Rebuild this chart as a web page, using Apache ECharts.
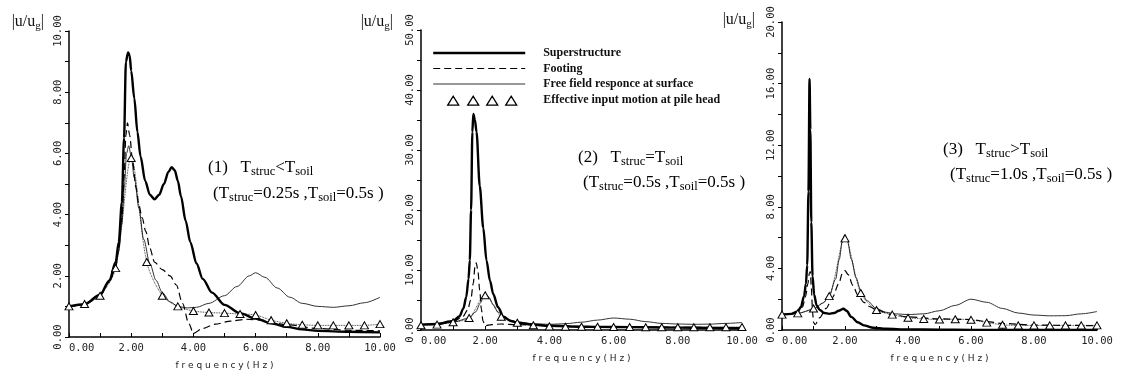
<!DOCTYPE html>
<html>
<head>
<meta charset="utf-8">
<title>|u/ug| frequency response</title>
<script src="https://cdn.jsdelivr.net/npm/echarts@6/dist/echarts.min.js"></script>
<style>
    html, body { margin: 0; padding: 0; background: #fff; }
    #resCharts { width: 1126px; height: 377px; }
</style>
</head>
<body>
<div id="resCharts"></div>
<script>
    // y axis ranges / tick labels
    const yMax = [10, 50, 20]
    const yStep = [2, 10, 4]
    const xMax = 10
    const xStep = 2

    // effective input motion at pile head (triangles), every 0.5 Hz
    const triFreq = [0, 0.5, 1, 1.5, 2, 2.5, 3, 3.5, 4, 4.5, 5, 5.5, 6, 6.5, 7, 7.5, 8, 8.5, 9, 9.5, 10]

    // (1) Tstruc < Tsoil
    const p1SuperF = [0, 0.5, 1.0, 1.3, 1.5, 1.6, 1.7, 1.77, 1.83, 1.9, 1.95, 2.0, 2.1, 2.2, 2.3, 2.45, 2.6, 2.75, 2.9, 3.05, 3.2, 3.3, 3.4, 3.5, 3.6, 3.75, 3.9, 4.1, 4.3, 4.6, 5.0, 5.5, 6.0, 6.5, 7.0, 7.5, 8.0, 9.0, 10.0]
    const p1SuperV = [1.0, 1.07, 1.38, 1.85, 2.45, 3.1, 4.4, 6.5, 9.0, 9.3, 9.2, 8.7, 7.8, 6.7, 5.9, 5.1, 4.65, 4.5, 4.65, 5.0, 5.4, 5.55, 5.45, 5.1, 4.6, 3.8, 3.1, 2.4, 1.9, 1.45, 1.05, 0.78, 0.6, 0.45, 0.33, 0.25, 0.2, 0.17, 0.15]
    const p1FootF = [0, 0.5, 1.0, 1.3, 1.5, 1.6, 1.7, 1.77, 1.83, 1.88, 1.95, 2.05, 2.15, 2.25, 2.35, 2.47, 2.6, 2.75, 3.0, 3.25, 3.45, 3.65, 3.85, 4.0, 4.3, 4.7, 5.2, 5.7, 6.2, 7.0, 8.0, 9.0, 10.0]
    const p1FootV = [1.0, 1.05, 1.35, 1.8, 2.3, 2.9, 3.9, 5.2, 6.6, 7.0, 6.6, 5.7, 4.9, 4.3, 3.9, 3.45, 2.9, 2.45, 2.2, 2.0, 1.7, 1.1, 0.45, 0.12, 0.28, 0.42, 0.52, 0.58, 0.55, 0.4, 0.28, 0.22, 0.2]
    const p1FreeF = [0, 0.5, 1.0, 1.3, 1.5, 1.6, 1.7, 1.78, 1.85, 1.92, 2.0, 2.1, 2.25, 2.4, 2.6, 2.8, 3.0, 3.25, 3.5, 3.8, 4.1, 4.5, 5.0, 5.4, 5.8, 6.0, 6.3, 6.7, 7.1, 7.5, 8.0, 8.5, 9.0, 9.5, 10.0]
    const p1FreeV = [1.0, 1.06, 1.35, 1.8, 2.25, 2.8, 3.7, 4.9, 6.0, 6.25, 5.9, 5.2, 4.2, 3.2, 2.4, 1.85, 1.45, 1.15, 1.0, 0.95, 0.97, 1.1, 1.35, 1.65, 2.0, 2.1, 1.95, 1.6, 1.3, 1.1, 1.0, 0.97, 1.02, 1.12, 1.3]
    const p1Tri = [1.0, 1.08, 1.35, 2.25, 5.85, 2.45, 1.35, 1.0, 0.85, 0.8, 0.78, 0.75, 0.72, 0.55, 0.45, 0.4, 0.38, 0.38, 0.38, 0.38, 0.42]

    // (2) Tstruc = Tsoil
    const p2SuperF = [0, 0.5, 1.0, 1.2, 1.32, 1.41, 1.48, 1.52, 1.56, 1.6, 1.63, 1.68, 1.73, 1.83, 1.94, 2.04, 2.15, 2.25, 2.4, 2.57, 2.8, 3.0, 3.5, 4.0, 5.0, 6.0, 7.0, 8.0, 9.0, 10.0]
    const p2SuperV = [0.9, 1.0, 1.5, 2.3, 3.6, 5.5, 8.5, 11.6, 20, 33, 36, 35, 33, 24, 17, 11.6, 8.2, 6.0, 3.8, 2.2, 1.5, 1.2, 0.9, 0.7, 0.55, 0.5, 0.45, 0.4, 0.35, 0.3]
    const p2FootF = [0, 0.5, 1.0, 1.3, 1.45, 1.55, 1.63, 1.68, 1.72, 1.77, 1.83, 1.88, 1.93, 2.0, 2.2, 2.5, 3.0, 3.5, 4.0, 5.0, 6.0, 7.0, 8.0, 9.0, 10.0]
    const p2FootV = [0.9, 1.0, 1.4, 2.2, 3.3, 5.0, 7.8, 10.5, 11.2, 10.0, 6.6, 3.5, 1.5, 0.7, 0.9, 1.0, 0.9, 0.8, 0.7, 0.6, 0.55, 0.5, 0.45, 0.42, 0.4]
    const p2FreeF = [0, 0.5, 1.0, 1.5, 1.7, 1.85, 1.95, 2.03, 2.12, 2.25, 2.4, 2.6, 2.8, 3.0, 3.5, 4.0, 4.5, 5.0, 5.5, 6.0, 6.5, 7.0, 7.5, 8.0, 8.5, 9.0, 9.5, 10.0]
    const p2FreeV = [0.9, 1.0, 1.3, 2.0, 3.0, 4.5, 5.6, 5.9, 5.4, 4.2, 3.0, 2.1, 1.6, 1.35, 1.05, 0.95, 1.05, 1.3, 1.65, 2.0, 1.8, 1.4, 1.1, 1.0, 0.95, 0.98, 1.1, 1.25]
    const p2Tri = [0.8, 0.9, 1.3, 2.0, 5.8, 2.2, 1.2, 0.8, 0.6, 0.55, 0.55, 0.55, 0.5, 0.5, 0.45, 0.45, 0.45, 0.45, 0.45, 0.45, 0.5]

    // (3) Tstruc > Tsoil
    const p3SuperF = [0, 0.3, 0.5, 0.6, 0.7, 0.76, 0.8, 0.84, 0.875, 0.9, 0.93, 0.97, 1.02, 1.1, 1.2, 1.35, 1.5, 1.65, 1.8, 1.95, 2.05, 2.2, 2.4, 2.6, 2.9, 3.3, 4.0, 5.0, 6.0, 8.0, 10.0]
    const p3SuperV = [1.0, 1.05, 1.2, 1.5, 2.2, 3.0, 4.2, 9.0, 16.3, 13.0, 7.0, 3.5, 2.3, 1.6, 1.3, 1.1, 1.05, 1.1, 1.25, 1.38, 1.25, 0.85, 0.5, 0.3, 0.15, 0.08, 0.04, 0.02, 0.01, 0, 0]
    const p3FootF = [0, 0.3, 0.5, 0.65, 0.75, 0.82, 0.87, 0.9, 0.93, 0.97, 1.0, 1.05, 1.2, 1.4, 1.6, 1.8, 1.92, 2.0, 2.1, 2.25, 2.4, 2.6, 2.8, 3.0, 3.5, 4.0, 5.0, 6.0, 6.5, 7.0, 8.0, 9.0, 10.0]
    const p3FootV = [1.0, 1.05, 1.15, 1.5, 2.2, 3.0, 3.7, 3.8, 2.8, 1.2, 0.5, 0.35, 0.8, 1.4, 2.1, 3.0, 3.7, 3.85, 3.6, 2.9, 2.3, 1.8, 1.5, 1.3, 1.0, 0.85, 0.72, 0.68, 0.55, 0.42, 0.32, 0.3, 0.28]
    const p3FreeF = [0, 0.5, 1.0, 1.3, 1.5, 1.7, 1.82, 1.92, 2.0, 2.08, 2.2, 2.35, 2.5, 2.7, 3.0, 3.3, 3.6, 4.0, 4.5, 5.0, 5.5, 6.0, 6.5, 7.0, 7.5, 8.0, 8.5, 9.0, 9.5, 10.0]
    const p3FreeV = [1.0, 1.08, 1.35, 1.75, 2.2, 3.3, 4.6, 5.9, 6.2, 5.8, 4.6, 3.4, 2.55, 1.9, 1.4, 1.15, 1.05, 1.0, 1.05, 1.25, 1.6, 2.0, 1.8, 1.4, 1.1, 0.97, 0.92, 0.93, 1.05, 1.2]
    const p3Tri = [1.0, 1.08, 1.4, 2.2, 5.95, 2.4, 1.3, 1.0, 0.8, 0.72, 0.68, 0.7, 0.66, 0.48, 0.34, 0.3, 0.3, 0.3, 0.3, 0.3, 0.3]

    const seriesNames = ['Superstructure', 'Footing', 'Free field responce at surface', 'Effective input motion at pile head']

    const panels = [
        {sF: p1SuperF, sV: p1SuperV, fF: p1FootF, fV: p1FootV, gF: p1FreeF, gV: p1FreeV, t: p1Tri},
        {sF: p2SuperF, sV: p2SuperV, fF: p2FootF, fV: p2FootV, gF: p2FreeF, gV: p2FreeV, t: p2Tri},
        {sF: p3SuperF, sV: p3SuperV, fF: p3FootF, fV: p3FootV, gF: p3FreeF, gV: p3FreeV, t: p3Tri}
    ]

    const zip = (xs, ys) => xs.map((x, i) => [x, ys[i]])

    const tickFont = 'DejaVu Sans Mono'
    const serif = '"Liberation Serif", "Times New Roman", serif'

    const grids = [
        {left: 69, top: 31, width: 311, height: 306},
        {left: 421, top: 30, width: 321, height: 300},
        {left: 782, top: 22, width: 315, height: 308}
    ]
    const nameRight = [25, 28, 27]
    const nameGap = [9, 8, 2]

    const xAxes = grids.map((g, i) => ({
        type: 'value',
        gridIndex: i,
        min: 0,
        max: xMax,
        interval: xStep,
        name: 'f r e q u e n c y ( H z )',
        nameLocation: 'middle',
        nameGap: 24,
        nameTextStyle: {fontFamily: 'DejaVu Sans', fontSize: 9, color: '#222'},
        axisLine: {lineStyle: {color: '#000', width: 1.5}},
        axisTick: {inside: true, length: 4, lineStyle: {color: '#000'}},
        minorTick: {show: true, splitNumber: 2, length: 4, lineStyle: {color: '#000'}},
        splitLine: {show: false},
        axisLabel: {
            margin: 6,
            fontFamily: tickFont,
            fontSize: 10.5,
            color: '#222',
            showMinLabel: true,
            showMaxLabel: true,
            alignMinLabel: 'left',
            formatter: v => v.toFixed(2)
        }
    }))

    const yAxes = grids.map((g, i) => ({
        type: 'value',
        gridIndex: i,
        min: 0,
        max: yMax[i],
        interval: yStep[i],
        name: '{m||u/u}{s|g}{m||}',
        nameLocation: 'end',
        nameGap: nameGap[i],
        nameTextStyle: {
            align: 'right',
            verticalAlign: 'middle',
            padding: [0, nameRight[i], 0, 0],
            rich: {
                m: {fontFamily: serif, fontSize: 16, color: '#111', lineHeight: 20},
                s: {fontFamily: serif, fontSize: 11, color: '#111', lineHeight: 20, verticalAlign: 'bottom'}
            }
        },
        axisLine: {show: true, lineStyle: {color: '#000', width: 1.5}},
        axisTick: {show: true, inside: false, length: 4, lineStyle: {color: '#000'}},
        minorTick: {show: true, splitNumber: 2, length: 4, lineStyle: {color: '#000'}},
        splitLine: {show: false},
        axisLabel: {
            rotate: 90,
            margin: 5,
            fontFamily: tickFont,
            fontSize: 10.5,
            color: '#222',
            showMinLabel: true,
            showMaxLabel: true,
            formatter: v => v.toFixed(2)
        }
    }))

    const series = []
    panels.forEach((p, i) => {
        series.push({
            name: seriesNames[0], type: 'line', xAxisIndex: i, yAxisIndex: i,
            data: zip(p.sF, p.sV), symbol: 'none', smooth: 0.3, smoothMonotone: 'x',
            itemStyle: {color: '#000'},
            lineStyle: {color: '#000', width: 2.4}, z: 4
        })
        series.push({
            name: seriesNames[1], type: 'line', xAxisIndex: i, yAxisIndex: i,
            data: zip(p.fF, p.fV), symbol: 'none', smooth: 0.3, smoothMonotone: 'x',
            itemStyle: {color: '#000'},
            lineStyle: {color: '#000', width: 1.2, type: [7, 4]}, z: 3
        })
        series.push({
            name: seriesNames[2], type: 'line', xAxisIndex: i, yAxisIndex: i,
            data: zip(p.gF, p.gV), symbol: 'none', smooth: 0.3, smoothMonotone: 'x',
            itemStyle: {color: '#333'},
            lineStyle: {color: '#333', width: 1}, z: 2
        })
        series.push({
            name: seriesNames[3], type: 'line', xAxisIndex: i, yAxisIndex: i,
            data: zip(triFreq, p.t), symbol: 'triangle', symbolSize: [8, 7], showSymbol: true,
            smooth: 0.3,
            itemStyle: {color: '#fff', borderColor: '#000', borderWidth: 1},
            lineStyle: {color: '#000', width: 0.8, type: 'dotted'}, z: 5
        })
    })

    const rich = {
        n: {fontFamily: serif, fontSize: 17, color: '#111', lineHeight: 22},
        s: {fontFamily: serif, fontSize: 12.5, color: '#111', lineHeight: 22, verticalAlign: 'bottom'}
    }
    const note = (x, y, text) => ({type: 'text', left: x, top: y, style: {text: text, rich: rich}})

    // legend: line samples only, no dot in the middle
    const hideDot = {opacity: 0}

    const option = {
        animation: false,
        backgroundColor: '#fff',
        grid: grids,
        xAxis: xAxes,
        yAxis: yAxes,
        legend: {
            orient: 'vertical',
            left: 427,
            top: 42,
            itemWidth: 92,
            itemHeight: 12,
            itemGap: 3.5,
            selectedMode: false,
            lineStyle: {width: 'inherit'},
            textStyle: {fontFamily: serif, fontWeight: 'bold', fontSize: 12, color: '#111', padding: [0, 0, 0, 13]},
            data: [
                {name: seriesNames[0], itemStyle: hideDot},
                {name: seriesNames[1], itemStyle: hideDot},
                {name: seriesNames[2], itemStyle: hideDot},
                {
                    name: seriesNames[3],
                    icon: 'path://M0,0M92,12M14.5,11L20,2L25.5,11ZM34.5,11L40,2L45.5,11ZM53.5,11L59,2L64.5,11ZM72.5,11L78,2L83.5,11Z',
                    itemStyle: {color: '#fff', borderColor: '#000', borderWidth: 1.3}
                }
            ]
        },
        graphic: [
            note(208, 159, '{n|(1)   T}{s|struc}{n|<T}{s|soil}'),
            note(213, 185, '{n|(T}{s|struc}{n|=0.25s ,T}{s|soil}{n|=0.5s )}'),
            note(578, 149, '{n|(2)   T}{s|struc}{n|=T}{s|soil}'),
            note(583, 174, '{n|(T}{s|struc}{n|=0.5s ,T}{s|soil}{n|=0.5s )}'),
            note(943, 141, '{n|(3)   T}{s|struc}{n|>T}{s|soil}'),
            note(950, 166, '{n|(T}{s|struc}{n|=1.0s ,T}{s|soil}{n|=0.5s )}')
        ],
        series: series
    }

    const resCharts = echarts.init(document.getElementById('resCharts'))
    resCharts.setOption(option)
    window.addEventListener('resize', () => resCharts.resize())
</script>
</body>
</html>
